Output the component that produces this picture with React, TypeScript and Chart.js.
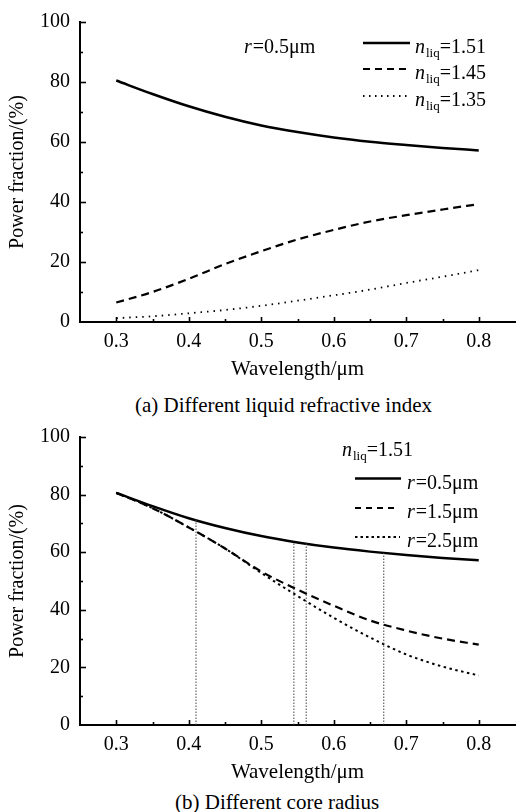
import React, { useEffect, useRef } from 'react';
import { Chart, registerables } from 'chart.js';

Chart.register(...registerables);

const FONT = "'Liberation Serif', 'Times New Roman', serif";

// ---------- data ----------
const wavelengths = [0.3, 0.35, 0.4, 0.45, 0.5, 0.55, 0.6, 0.65, 0.7, 0.75, 0.8];

// (a) r = 0.5 µm, different liquid refractive index
const powerN151 = [80.5, 76.0, 71.9, 68.4, 65.5, 63.3, 61.5, 60.1, 59.0, 58.0, 57.2];
const powerN145 = [6.5, 10.0, 14.4, 19.3, 23.6, 27.5, 30.7, 33.5, 35.6, 37.5, 39.3];
const powerN135 = [1.3, 1.9, 2.9, 4.0, 5.4, 7.1, 8.9, 10.8, 13.0, 15.1, 17.3];

// (b) n_liq = 1.51, different core radius
const powerR05 = [80.6, 76.0, 71.8, 68.4, 65.6, 63.4, 61.6, 60.2, 59.0, 58.0, 57.2];
const powerR15 = [80.6, 75.3, 68.6, 61.3, 53.3, 47.0, 41.4, 36.3, 32.8, 30.0, 27.9];
const powerR25 = [80.6, 75.3, 68.6, 61.3, 52.8, 44.8, 37.2, 30.4, 24.5, 20.3, 17.2];

// vertical marker lines in (b)
const markerWavelengths = [0.41, 0.545, 0.562, 0.669];
const markerTops = [71.3, 63.7, 63.0, 59.7];

const legendA = ['1.51', '1.45', '1.35'];
const legendB = ['0.5', '1.5', '2.5'];
const xMajorTicks = [0.3, 0.4, 0.5, 0.6, 0.7, 0.8];
const yMajorTicks = [0, 20, 40, 60, 80, 100];

type Part = { t: string; italic?: boolean; sub?: boolean };

function drawRich(ctx: CanvasRenderingContext2D, x: number, y: number, parts: Part[], size = 20) {
  let cx = x;
  ctx.textBaseline = 'alphabetic';
  ctx.textAlign = 'left';
  ctx.fillStyle = '#000';
  for (const p of parts) {
    const fs = p.sub ? 13 : size;
    ctx.font = `${p.italic ? 'italic ' : ''}${fs}px ${FONT}`;
    ctx.fillText(p.t, cx, p.sub ? y + 4 : y);
    cx += ctx.measureText(p.t).width + (p.italic ? 1 : 0);
  }
}

const isMajorX = (v: number) => xMajorTicks.some((m) => Math.abs(m - v) < 1e-6);
const isMajorY = (v: number) => yMajorTicks.some((m) => Math.abs(m - v) < 1e-6);

const inwardTicks = {
  id: 'inwardTicks',
  afterDraw(chart: any) {
    const { ctx } = chart;
    const xs = chart.scales.x;
    const ys = chart.scales.y;
    ctx.save();
    ctx.strokeStyle = '#000';
    ctx.lineWidth = 1.6;
    for (const t of xs.ticks) {
      const v = t.value;
      if (v < 0.299 || v > 0.801) continue;
      const px = Math.round(xs.getPixelForValue(v)) + 0.5;
      ctx.beginPath();
      ctx.moveTo(px, ys.bottom);
      ctx.lineTo(px, ys.bottom - (isMajorX(v) ? 5 : 3));
      ctx.stroke();
    }
    for (const t of ys.ticks) {
      const v = t.value;
      if (v <= 0) continue;
      const py = Math.round(ys.getPixelForValue(v)) + 0.5;
      ctx.beginPath();
      ctx.moveTo(xs.left, py);
      ctx.lineTo(xs.left + (isMajorY(v) ? 6 : 3), py);
      ctx.stroke();
    }
    ctx.restore();
  },
};

type Row = { lineY: number; dash: number[]; width: number; x0: number; x1: number; tx: number; parts: Part[] };
type Note = { x: number; y: number; parts: Part[] };

function makeLegendPlugin(rows: Row[], notes: Note[]) {
  return {
    id: 'richLegend',
    afterDraw(chart: any) {
      const { ctx } = chart;
      ctx.save();
      for (const r of rows) {
        ctx.strokeStyle = '#000';
        ctx.lineWidth = r.width;
        ctx.setLineDash(r.dash);
        ctx.beginPath();
        ctx.moveTo(r.x0, r.lineY);
        ctx.lineTo(r.x1, r.lineY);
        ctx.stroke();
        ctx.setLineDash([]);
        drawRich(ctx, r.tx, r.lineY + 10, r.parts);
      }
      for (const n of notes) drawRich(ctx, n.x, n.y, n.parts);
      ctx.restore();
    },
  };
}

function pts(ys: number[]) {
  return wavelengths.map((w, i) => ({ x: w, y: ys[i] }));
}

function baseOptions(topPad: number) {
  return {
    responsive: false,
    animation: false as const,
    layout: { padding: { top: topPad, left: 0, right: 0, bottom: 0 } },
    plugins: { legend: { display: false }, tooltip: { enabled: false } },
    elements: { point: { radius: 0 } },
    scales: {
      x: {
        type: 'linear' as const,
        min: 0.25,
        max: 0.85,
        afterFit: (s: any) => {
          s.height = 60;
        },
        border: { display: true, color: '#000', width: 2 },
        grid: { drawOnChartArea: false, drawTicks: false },
        ticks: {
          stepSize: 0.05,
          autoSkip: false,
          maxRotation: 0,
          padding: 8,
          color: '#000',
          font: { family: FONT, size: 20 },
          callback: (v: any) => (isMajorX(Number(v)) ? Number(v).toFixed(1) : ''),
        },
        title: {
          display: true,
          text: 'Wavelength/μm',
          color: '#000',
          font: { family: FONT, size: 21 },
          padding: { top: 0, bottom: 0 },
        },
      },
      y: {
        type: 'linear' as const,
        min: 0,
        max: 100,
        afterFit: (s: any) => {
          s.width = 80;
        },
        border: { display: true, color: '#000', width: 2 },
        grid: { drawOnChartArea: false, drawTicks: false },
        ticks: {
          stepSize: 10,
          padding: 10,
          color: '#000',
          font: { family: FONT, size: 20 },
          callback: (v: any) => (isMajorY(Number(v)) ? String(v) : ''),
        },
        title: {
          display: true,
          text: 'Power fraction/(%)',
          color: '#000',
          font: { family: FONT, size: 20 },
          padding: { top: 6, bottom: 0 },
        },
      },
    },
  };
}

function lineDs(data: any, dash: number[], width: number, extra: any = {}) {
  return {
    data,
    borderColor: '#000',
    backgroundColor: '#000',
    borderWidth: width,
    borderDash: dash,
    pointRadius: 0,
    fill: false,
    cubicInterpolationMode: 'monotone' as const,
    ...extra,
  };
}

function ChartA() {
  const ref = useRef<HTMLCanvasElement>(null);
  useEffect(() => {
    if (!ref.current) return;
    const nParts = (v: string): Part[] => [{ t: 'n', italic: true }, { t: 'liq', sub: true }, { t: '=' + v }];
    const rows: Row[] = [
      { lineY: 43, dash: [], width: 2.5, x0: 363, x1: 410, tx: 415, parts: nParts(legendA[0]) },
      { lineY: 69, dash: [7, 5], width: 2.2, x0: 363, x1: 407, tx: 415, parts: nParts(legendA[1]) },
      { lineY: 96, dash: [1.5, 4.5], width: 1.8, x0: 363, x1: 407, tx: 415, parts: nParts(legendA[2]) },
    ];
    const notes: Note[] = [{ x: 244, y: 53, parts: [{ t: 'r', italic: true }, { t: '=0.5μm' }] }];
    const chart = new Chart(ref.current, {
      type: 'line',
      data: {
        datasets: [
          lineDs(pts(powerN151), [], 2.5),
          lineDs(pts(powerN145), [8, 5], 2.2),
          lineDs(pts(powerN135), [1.5, 5], 1.8),
        ],
      },
      options: baseOptions(18) as any,
      plugins: [inwardTicks, makeLegendPlugin(rows, notes)],
    });
    return () => chart.destroy();
  }, []);
  return <canvas ref={ref} width={523} height={382} style={{ position: 'absolute', left: 0, top: 0, width: 523, height: 382 }} />;
}

function ChartB() {
  const ref = useRef<HTMLCanvasElement>(null);
  useEffect(() => {
    if (!ref.current) return;
    const rParts = (v: string): Part[] => [{ t: 'r', italic: true }, { t: '=' + v + 'μm' }];
    const rows: Row[] = [
      { lineY: 63.5, dash: [], width: 2.5, x0: 355, x1: 401, tx: 407, parts: rParts(legendB[0]) },
      { lineY: 93, dash: [6, 5], width: 2.2, x0: 355, x1: 398, tx: 407, parts: rParts(legendB[1]) },
      { lineY: 122, dash: [2.5, 3], width: 2, x0: 355, x1: 400, tx: 407, parts: rParts(legendB[2]) },
    ];
    const notes: Note[] = [
      { x: 342, y: 41, parts: [{ t: 'n', italic: true }, { t: 'liq', sub: true }, { t: '=1.51' }] },
    ];
    const markers = markerWavelengths.map((w, i) =>
      lineDs(
        [
          { x: w, y: 0 },
          { x: w, y: markerTops[i] },
        ],
        [1.5, 1.5],
        1,
        { borderColor: '#444', cubicInterpolationMode: 'default', tension: 0 }
      )
    );
    const chart = new Chart(ref.current, {
      type: 'line',
      data: {
        datasets: [
          ...markers,
          lineDs(pts(powerR05), [], 2.5),
          lineDs(pts(powerR15), [8, 5], 2.2),
          lineDs(pts(powerR25), [2.5, 3.5], 2),
        ],
      },
      options: baseOptions(20) as any,
      plugins: [inwardTicks, makeLegendPlugin(rows, notes)],
    });
    return () => chart.destroy();
  }, []);
  return <canvas ref={ref} width={523} height={370} style={{ position: 'absolute', left: 0, top: 415, width: 523, height: 370 }} />;
}

const captionStyle: React.CSSProperties = {
  position: 'absolute',
  fontFamily: FONT,
  fontSize: 21,
  lineHeight: '24px',
  color: '#000',
  whiteSpace: 'nowrap',
};

export default function App() {
  return (
    <div style={{ position: 'absolute', left: 0, top: 0, width: 523, height: 812, background: '#fff', overflow: 'hidden' }}>
      <ChartA />
      <div style={{ ...captionStyle, left: 135, top: 393 }}>(a) Different liquid refractive index</div>
      <ChartB />
      <div style={{ ...captionStyle, left: 175, top: 790 }}>(b) Different core radius</div>
    </div>
  );
}
